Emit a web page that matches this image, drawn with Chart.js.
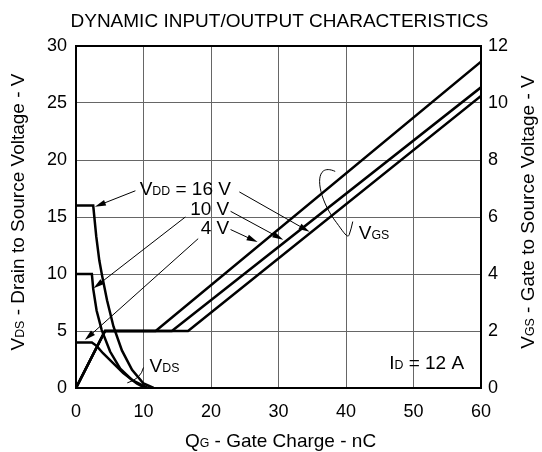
<!DOCTYPE html>
<html>
<head>
<meta charset="utf-8">
<script src="https://cdn.jsdelivr.net/npm/chart.js@4.4.1/dist/chart.umd.min.js"></script>
<style>
body { margin: 0; background: #fff; }
#wrap { width: 542px; height: 452px; }
</style>
</head>
<body>
<div id="wrap"><canvas id="chart_qg"></canvas></div>
<script>
// tick labels
var xTicks = [0, 10, 20, 30, 40, 50, 60]
var vdsTicks = [0, 5, 10, 15, 20, 25, 30]
var vgsTicks = [0, 2, 4, 6, 8, 10, 12]

// V_DS curves (left axis), Q in nC
var qVds16 = [0, 2.55, 3.0, 3.45, 3.85, 4.6, 5.55, 6.8, 8.3, 10.0, 11.5]
var vds16 = [16, 16, 13.3, 11.2, 9.9, 7.7, 5.4, 3.3, 1.6, 0.4, 0]
var qVds10 = [0, 2.35, 2.55, 3.05, 3.8, 5.05, 6.55, 8.3, 10.7]
var vds10 = [10, 10, 8.7, 6.8, 5.1, 3.2, 1.7, 0.7, 0]
var qVds4 = [0, 2.35, 3.05, 4.0, 5.05, 7.0, 9.0, 10.25]
var vds4 = [4, 4, 3.7, 3.05, 2.45, 1.3, 0.4, 0]

// V_GS curves (right axis)
var qVgs4 = [0, 4.3, 11.8, 60]
var vgs4 = [0, 2, 2, 11.45]
var qVgs10 = [0, 4.3, 14.2, 60]
var vgs10 = [0, 2, 2, 10.55]
var qVgs16 = [0, 4.3, 16.6, 60]
var vgs16 = [0, 2, 2, 10.25]

var FONT = '"Liberation Sans", Arial, sans-serif'

function pts(xs, ys) {
    return xs.map(function(q, i) { return { x: q, y: ys[i] } })
}

function curve(xs, ys, axis) {
    return {
        data: pts(xs, ys),
        yAxisID: axis,
        borderColor: '#000',
        borderWidth: 2.5,
        pointRadius: 0,
        fill: false,
        tension: 0
    }
}

// text with smaller "subscript" parts on the same baseline
function richText(ctx, parts, x, y, size, align) {
    var w = 0
    parts.forEach(function(p) {
        ctx.font = (p[1] ? size * 0.65 : size) + 'px ' + FONT
        w += ctx.measureText(p[0]).width
    })
    var cx = align === 'center' ? x - w / 2 : (align === 'right' ? x - w : x)
    ctx.textAlign = 'left'
    ctx.textBaseline = 'alphabetic'
    parts.forEach(function(p) {
        ctx.font = (p[1] ? size * 0.65 : size) + 'px ' + FONT
        ctx.fillText(p[0], cx, y)
        cx += ctx.measureText(p[0]).width
    })
}

function arrow(ctx, x1, y1, x2, y2) {
    var a = Math.atan2(y2 - y1, x2 - x1), len = 11, hw = 3
    ctx.beginPath()
    ctx.moveTo(x1, y1)
    ctx.lineTo(x2 - 6 * Math.cos(a), y2 - 6 * Math.sin(a))
    ctx.stroke()
    ctx.beginPath()
    ctx.moveTo(x2, y2)
    ctx.lineTo(x2 - len * Math.cos(a) + hw * Math.sin(a), y2 - len * Math.sin(a) - hw * Math.cos(a))
    ctx.lineTo(x2 - len * Math.cos(a) - hw * Math.sin(a), y2 - len * Math.sin(a) + hw * Math.cos(a))
    ctx.closePath()
    ctx.fill()
}

var decorations = {
    id: 'decorations',
    afterDatasetsDraw: function(chart) {
        var ctx = chart.ctx, a = chart.chartArea
        var sx = chart.scales.x, sy = chart.scales.y
        var px = function(q) { return sx.getPixelForValue(q) }
        var py = function(v) { return sy.getPixelForValue(v) }
        ctx.save()
        ctx.strokeStyle = '#000'
        ctx.fillStyle = '#000'

        // frame
        ctx.lineWidth = 2
        ctx.strokeRect(a.left, a.top, a.right - a.left, a.bottom - a.top)

        // arrows
        ctx.lineWidth = 1
        arrow(ctx, px(8.8), py(17.3), px(2.8), py(15.9))
        arrow(ctx, px(16.2), py(15.0), px(2.6), py(8.75))
        arrow(ctx, px(18.1), py(13.1), px(1.3), py(4.2))
        arrow(ctx, px(24.2), py(17.2), px(34.6), py(13.7))
        arrow(ctx, px(22.9), py(15.5), px(30.7), py(13.0))
        arrow(ctx, px(22.9), py(13.9), px(26.9), py(12.8))

        // loop round the V_GS lines
        ctx.beginPath()
        ctx.moveTo(px(38.4), py(19.0))
        ctx.bezierCurveTo(px(35.0), py(19.9), px(35.6), py(16.8), px(38.6), py(14.5))
        ctx.bezierCurveTo(px(39.6), py(13.7), px(40.3), py(13.0), px(40.5), py(13.5))
        ctx.quadraticCurveTo(px(40.8), py(14.0), px(41.0), py(14.6))
        ctx.stroke()

        // small hook to V_DS
        ctx.beginPath()
        ctx.moveTo(px(10.0), py(1.8))
        ctx.quadraticCurveTo(px(9.6), py(0.8), px(7.6), py(0.45))
        ctx.stroke()

        // texts
        var s = 19, off = s * 0.36
        richText(ctx, [['V', 0], ['DD', 1], [' = 16 V', 0]], px(22.95), py(17.55) + off, s, 'right')
        richText(ctx, [['10 V', 0]], px(22.7), py(15.8) + off, s, 'right')
        richText(ctx, [['4 V', 0]], px(22.7), py(14.1) + off, s, 'right')
        richText(ctx, [['V', 0], ['GS', 1]], px(41.9), py(13.7) + off, s, 'left')
        richText(ctx, [['V', 0], ['DS', 1]], px(10.9), py(2.0) + off, s, 'left')
        richText(ctx, [['I', 0], ['D', 1], [' = 12 A', 0]], px(46.4), py(2.3) + off, s, 'left')

        // chart title and axis titles
        richText(ctx, [['DYNAMIC INPUT/OUTPUT CHARACTERISTICS', 0]], (a.left + a.right) / 2 + 1, 20 + off, s, 'center')
        richText(ctx, [['Q', 0], ['G', 1], [' - Gate Charge - nC', 0]], (a.left + a.right) / 2 + 2, a.bottom + 52 + off, s, 'center')

        ctx.save()
        ctx.translate(17, 212)
        ctx.rotate(-Math.PI / 2)
        richText(ctx, [['V', 0], ['DS', 1], [' - Drain to Source Voltage - V', 0]], 0, off, s, 'center')
        ctx.restore()

        ctx.save()
        ctx.translate(527, 212)
        ctx.rotate(-Math.PI / 2)
        richText(ctx, [['V', 0], ['GS', 1], [' - Gate to Source Voltage - V', 0]], 0, off, s, 'center')
        ctx.restore()

        ctx.restore()
    }
}

var tickFont = { family: FONT, size: 18 }

var ctx = document.getElementById('chart_qg')
var chartQg = new Chart(ctx, {
    type: 'line',
    data: {
        datasets: [
            curve(qVds16, vds16, 'y'),
            curve(qVds10, vds10, 'y'),
            curve(qVds4, vds4, 'y'),
            curve(qVgs4, vgs4, 'y2'),
            curve(qVgs10, vgs10, 'y2'),
            curve(qVgs16, vgs16, 'y2')
        ]
    },
    options: {
        responsive: true,
        maintainAspectRatio: false,
        animation: false,
        layout: { padding: { top: 46, left: 0, right: 0, bottom: 0 } },
        plugins: {
            legend: { display: false },
            tooltip: { enabled: false }
        },
        scales: {
            x: {
                type: 'linear',
                min: 0,
                max: 60,
                afterBuildTicks: function(scale) { scale.ticks = xTicks.map(function(v) { return { value: v } }) },
                afterFit: function(scale) { scale.height = 64 },
                grid: { color: '#666', lineWidth: 1, drawTicks: false },
                border: { display: false },
                ticks: { color: '#000', font: tickFont, padding: 13, maxRotation: 0 }
            },
            y: {
                position: 'left',
                min: 0,
                max: 30,
                afterBuildTicks: function(scale) { scale.ticks = vdsTicks.map(function(v) { return { value: v } }) },
                afterFit: function(scale) { scale.width = 76 },
                grid: { color: '#666', lineWidth: 1, drawTicks: false },
                border: { display: false },
                ticks: { color: '#000', font: tickFont, padding: 9 }
            },
            y2: {
                position: 'right',
                min: 0,
                max: 12,
                afterBuildTicks: function(scale) { scale.ticks = vgsTicks.map(function(v) { return { value: v } }) },
                afterFit: function(scale) { scale.width = 61 },
                grid: { display: false, drawTicks: false },
                border: { display: false },
                ticks: { color: '#000', font: tickFont, padding: 7 }
            }
        }
    },
    plugins: [decorations]
});
</script>
</body>
</html>
